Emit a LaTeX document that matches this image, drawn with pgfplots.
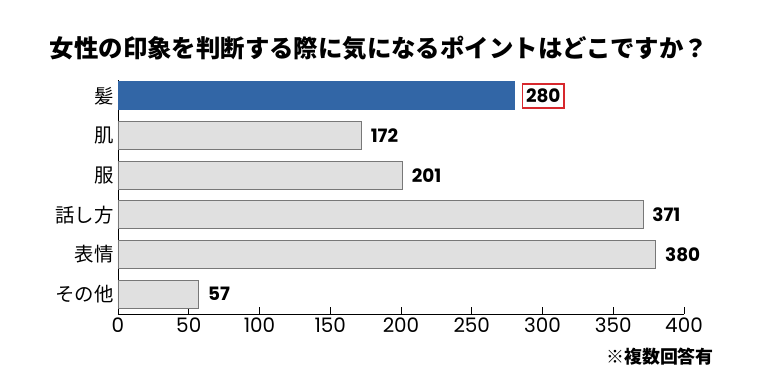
\documentclass[border=0pt]{standalone}
\usepackage{pgfplots}
\pgfplotsset{compat=1.18}
\usepackage{fontspec}
\newfontfamily\jp{Noto Sans CJK JP}
\newfontfamily\pop{Poppins}
\definecolor{barblue}{RGB}{50,102,166}
\definecolor{bargray}{RGB}{224,224,224}
\definecolor{bardraw}{RGB}{120,120,120}
\definecolor{boxred}{RGB}{215,40,45}
\begin{document}
\begin{tikzpicture}[x=1bp,y=1bp]
\path[use as bounding box] (-118,-68) rectangle (640,314);
\begin{axis}[
  at={(0,0)}, anchor=south west, scale only axis,
  width=566bp, height=234bp,
  xmin=0, xmax=400, ymin=-0.5, ymax=5.4,
  xbar, bar width=28bp, bar shift=0pt,
  axis lines*=left,
  axis line style={black, line width=1pt},
  xtick={0,50,...,400}, tick align=inside, major tick length=7bp,
  xtick style={black, line width=0.9pt},
  ytick={0,...,5},
  yticklabels={その他,表情,話し方,服,肌,髪},
  ytick style={draw=none},
  yticklabel style={font=\jp\fontsize{19.5}{20}\selectfont, xshift=-1bp},
  xticklabel style={font=\pop\fontsize{20}{20}\selectfont, yshift=0bp},
  /pgf/number format/assume math mode=true,
  point meta=x,
  nodes near coords,
  nodes near coords style={font=\pop\bfseries\fontsize{18.5}{19}\selectfont, anchor=west, inner xsep=9bp, text=black},
  clip=false,
]
\addplot[fill=barblue, draw=barblue, line width=0.8pt,
  nodes near coords style={draw=boxred, line width=1.6pt, inner xsep=3.5bp, minimum height=24bp, xshift=7.5bp}]
  coordinates {(280,5)};
\addplot[fill=bargray, draw=bardraw, line width=0.8pt]
  coordinates {(172,4) (201,3) (371,2) (380,1) (57,0)};
\end{axis}
\node[font=\jp\bfseries\fontsize{24.5}{27}\selectfont, anchor=center] at (261,266) {女性の印象を判断する際に気になるポイントはどこですか？};
\node[font=\jp\bfseries\fontsize{18}{20}\selectfont, anchor=east, inner sep=0pt] at (596,-43) {※複数回答有};
\end{tikzpicture}
\end{document}
